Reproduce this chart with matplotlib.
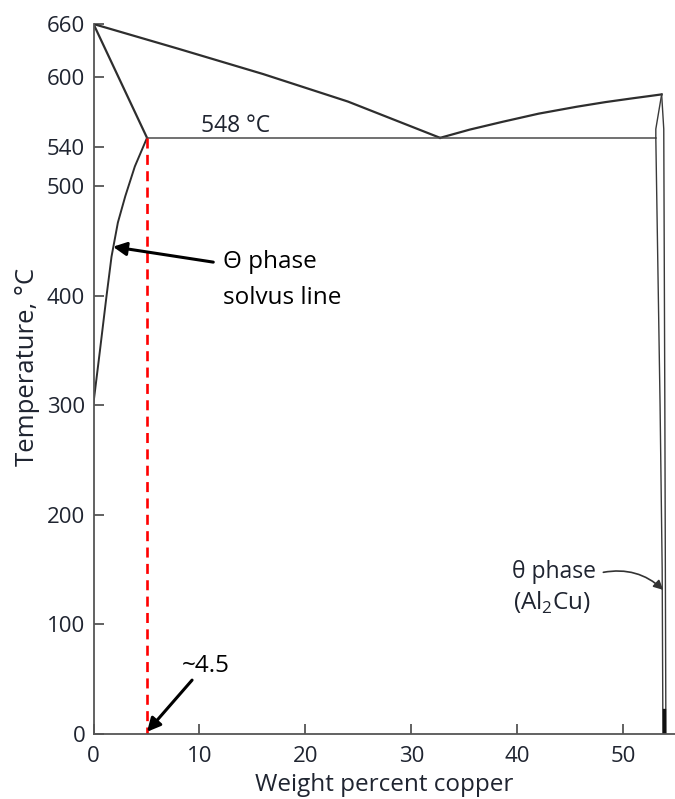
import matplotlib
matplotlib.use("Agg")
import matplotlib.pyplot as plt

plt.rcParams['font.family'] = ['Open Sans', 'DejaVu Sans']
plt.rcParams['mathtext.fontset'] = 'custom'
plt.rcParams['mathtext.rm'] = 'Open Sans'

# ---- data (wt% Cu, temperature on the drawing's scale) ----
liquidus_al_x = [0.0, 8.0, 16.0, 24.0, 32.7]
liquidus_al_y = [645.5, 623, 600, 575, 542]

liquidus_th_x = [32.7, 35.5, 38.6, 42.0, 45.6, 48.3, 50.9, 52.3, 53.6]
liquidus_th_y = [542, 549.5, 556.6, 564, 570.3, 574.5, 578, 579.8, 581.5]

solidus_x = [0.0, 5.05]
solidus_y = [645.5, 542]

solvus_x = [0.0, 0.6, 1.2, 1.7, 2.3, 3.0, 3.9, 5.05]
solvus_y = [301, 348, 396, 434, 465, 489, 516, 542]

eutectic_x = [5.05, 53.05]
eutectic_y = [542, 542]

theta_left_x = [53.6, 53.05, 53.05, 53.45, 53.65, 53.72]
theta_left_y = [581.5, 550, 542, 300, 150, 0]
theta_right_x = [53.6, 53.8, 53.9, 54.0]
theta_right_y = [581.5, 550, 300, 0]

dashed_x = [5.05, 5.05]
dashed_y = [542, 0]

x_ticks = [0, 10, 20, 30, 40, 50]
x_tick_labels = ['0', '10', '20', '30', '40', '50']
y_tick_pos = [0, 100, 199, 299, 398, 498, 534, 597, 645.5]
y_tick_labels = ['0', '100', '200', '300', '400', '500', '540', '600', '660']

# ---- figure ----
fig = plt.figure(figsize=(6.75, 7.99), dpi=100)
ax = fig.add_axes([93.5 / 675, 65 / 799, 581.5 / 675, 710 / 799])

line_col = '#2e2e2e'
ax.plot(liquidus_al_x, liquidus_al_y, color=line_col, lw=1.6, solid_joinstyle='round')
ax.plot(liquidus_th_x, liquidus_th_y, color=line_col, lw=1.6, solid_joinstyle='round')
ax.plot(solidus_x, solidus_y, color=line_col, lw=1.6)
ax.plot(solvus_x, solvus_y, color=line_col, lw=1.4, solid_joinstyle='round')
ax.plot(eutectic_x, eutectic_y, color='#4a4a4a', lw=1.1)
ax.plot(theta_left_x, theta_left_y, color='#3a3a3a', lw=1.0)
ax.plot(theta_right_x, theta_right_y, color='#3a3a3a', lw=1.0)
ax.plot([53.85, 53.85], [0, 22], color='#111111', lw=2.4)
ax.plot(dashed_x, dashed_y, color='#ff0000', lw=1.9, linestyle=(0, (3.8, 2.4)))

ax.set_xlim(0, 54.86)
ax.set_ylim(0, 645.5)

for s in ['top', 'right']:
    ax.spines[s].set_visible(False)
for s in ['left', 'bottom']:
    ax.spines[s].set_color('#555555')
    ax.spines[s].set_linewidth(1.3)

text_col = '#1f2430'
ax.set_xticks(x_ticks)
ax.set_xticklabels(x_tick_labels)
ax.set_yticks(y_tick_pos)
ax.set_yticklabels(y_tick_labels)
ax.tick_params(axis='both', direction='in', length=7, width=1.3, color='#555555',
               labelsize=16, labelcolor=text_col)
ax.tick_params(axis='y', pad=6)
ax.tick_params(axis='x', pad=9)

ax.set_xlabel('Weight percent copper', fontsize=17.5, color=text_col, labelpad=4)
ax.set_ylabel('Temperature, °C', fontsize=18.5, color=text_col, labelpad=6)
ax.yaxis.set_label_coords(-0.092, 0.517)

# ---- annotations ----
ax.text(13.4, 547, '548 °C', fontsize=16.5, color=text_col, ha='center', va='baseline')

ax.annotate('', xy=(1.84, 443), xytext=(11.3, 429),
            arrowprops=dict(arrowstyle='-|>', color='black', lw=2.2,
                            mutation_scale=20, shrinkA=0, shrinkB=0))
ax.text(12.2, 429, 'Θ phase', fontsize=17.5, color='black', ha='left', va='center')
ax.text(12.2, 396, 'solvus line', fontsize=17.5, color='black', ha='left', va='center')

ax.annotate('', xy=(5.05, 2), xytext=(9.3, 49),
            arrowprops=dict(arrowstyle='-|>', color='black', lw=2.2,
                            mutation_scale=20, shrinkA=0, shrinkB=0))
ax.text(8.3, 62, '~4.5', fontsize=17.5, color='black', ha='left', va='center')

ax.annotate('', xy=(53.75, 131), xytext=(48.1, 147),
            arrowprops=dict(arrowstyle='-|>', color='#333333', lw=1.2,
                            mutation_scale=14, shrinkA=0, shrinkB=0,
                            connectionstyle='arc3,rad=-0.25'))
ax.text(39.5, 147, 'θ phase', fontsize=16.5, color=text_col, ha='left', va='center')
ax.text(39.6, 119, r'(Al$_\mathregular{2}$Cu)', fontsize=17.5, color=text_col,
        ha='left', va='center')

fig.savefig('out.png', dpi=100)
